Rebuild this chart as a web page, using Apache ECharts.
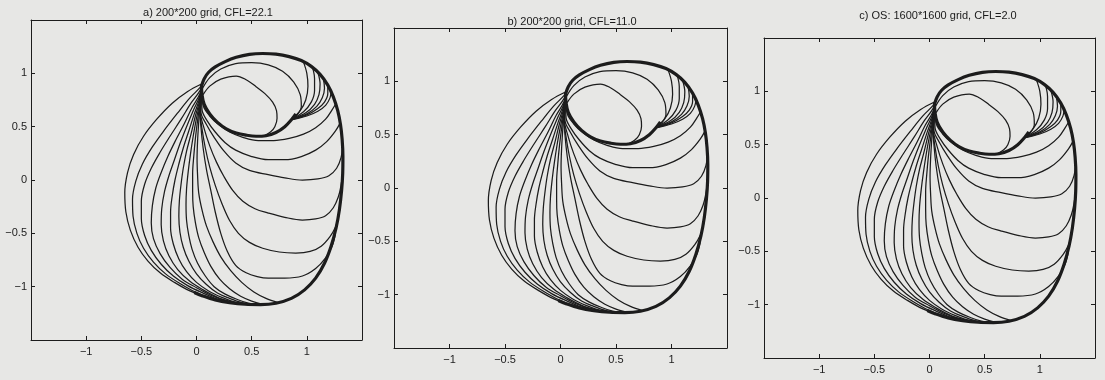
<!DOCTYPE html>
<html><head><meta charset="utf-8">
<script src="https://cdn.jsdelivr.net/npm/echarts@6/dist/echarts.min.js"></script>
<style>html,body{margin:0;padding:0;background:#e7e7e5;}#c{width:1105px;height:380px;}</style>
</head><body><div id="c"></div>
<script>
// ---- Data (data coordinates) ----
const panelTitles = ['a) 200*200 grid, CFL=22.1', 'b) 200*200 grid, CFL=11.0', 'c) OS: 1600*1600 grid, CFL=2.0'];
const tickValues = [-1, -0.5, 0, 0.5, 1];
const axisMin = -1.5, axisMax = 1.5, axisStep = 0.5;

// thick outer boundary (shared part of all contours)
const outerBoundary = [[0.045,0.88],[0.07,0.95],[0.11,1.01],[0.17,1.06],[0.26,1.11],[0.36,1.15],[0.48,1.178],[0.60,1.186],[0.72,1.18],[0.84,1.157],[0.95,1.12],[1.04,1.065],[1.12,0.99],[1.19,0.89],[1.24,0.78],[1.28,0.65],[1.305,0.52],[1.32,0.38],[1.327,0.22],[1.325,0.06],[1.315,-0.10],[1.295,-0.28],[1.265,-0.45],[1.22,-0.62],[1.16,-0.78],[1.08,-0.92],[0.98,-1.03],[0.86,-1.11],[0.72,-1.155],[0.58,-1.168],[0.44,-1.165],[0.30,-1.15],[0.17,-1.125],[0.05,-1.085],[-0.02,-1.055]];
// thick lower rim of the inner hole
const holeRing = [[0.045,0.90],[0.05,0.80],[0.07,0.71],[0.12,0.62],[0.19,0.54],[0.27,0.48],[0.36,0.44],[0.45,0.42],[0.54,0.41],[0.63,0.415],[0.72,0.445],[0.80,0.50],[0.86,0.565],[0.90,0.62]];
// loops inside the hole
const innerLoop1 = [[0.06,0.80],[0.12,0.88],[0.22,0.945],[0.36,0.975],[0.45,0.94],[0.54,0.875],[0.62,0.81],[0.69,0.73],[0.725,0.65],[0.73,0.58],[0.71,0.50],[0.67,0.45],[0.62,0.42]];
const innerLoop2 = [[0.055,0.86],[0.12,0.96],[0.22,1.04],[0.355,1.09],[0.50,1.10],[0.65,1.08],[0.78,1.02],[0.88,0.92],[0.94,0.80],[0.95,0.69],[0.91,0.61],[0.86,0.57]];
// fan from the upper-right arc into the hole rim
const fanA3 = [[0.97,1.105],[1.0,1.0],[1.01,0.88],[0.99,0.75],[0.94,0.65],[0.87,0.575]];
const fanA4 = [[1.05,1.06],[1.07,0.95],[1.07,0.84],[1.04,0.73],[0.97,0.64],[0.87,0.575]];
const fanA5 = [[1.10,1.01],[1.12,0.90],[1.11,0.80],[1.07,0.71],[0.99,0.63],[0.87,0.573]];
const fanA6 = [[1.15,0.95],[1.16,0.86],[1.14,0.77],[1.09,0.69],[1.00,0.62],[0.87,0.571]];
const fanA7 = [[1.19,0.89],[1.19,0.81],[1.16,0.73],[1.10,0.67],[1.00,0.61],[0.87,0.569]];
const fanA8 = [[1.22,0.83],[1.21,0.77],[1.17,0.70],[1.10,0.645],[1.0,0.60],[0.87,0.566]];
// bowls returning from the right side to the upper-left point
const bowlB1 = [[0.045,0.90],[0.06,0.70],[0.12,0.60],[0.20,0.52],[0.30,0.45],[0.42,0.40],[0.56,0.37],[0.70,0.37],[0.84,0.39],[0.97,0.43],[1.08,0.49],[1.17,0.57],[1.23,0.66],[1.265,0.72]];
const bowlB2 = [[0.045,0.90],[0.05,0.66],[0.10,0.55],[0.17,0.45],[0.26,0.35],[0.355,0.28],[0.50,0.22],[0.65,0.19],[0.80,0.19],[0.95,0.22],[1.08,0.28],[1.18,0.36],[1.26,0.46],[1.305,0.54]];
const bowlB3 = [[0.045,0.90],[0.04,0.64],[0.09,0.52],[0.16,0.40],[0.25,0.27],[0.355,0.16],[0.48,0.09],[0.65,0.05],[0.80,0.02],[0.96,0.0],[1.10,0.01],[1.20,0.04],[1.27,0.11],[1.31,0.21],[1.325,0.32]];
const bowlB4 = [[0.045,0.90],[0.035,0.64],[0.07,0.48],[0.12,0.32],[0.18,0.17],[0.25,0.03],[0.33,-0.10],[0.42,-0.20],[0.53,-0.27],[0.65,-0.31],[0.80,-0.35],[0.96,-0.375],[1.08,-0.365],[1.17,-0.335],[1.24,-0.26],[1.285,-0.16],[1.31,-0.05],[1.322,0.05]];
const bowlB5 = [[0.045,0.90],[0.03,0.65],[0.05,0.48],[0.08,0.30],[0.12,0.12],[0.17,-0.05],[0.23,-0.22],[0.30,-0.38],[0.38,-0.50],[0.48,-0.585],[0.60,-0.64],[0.75,-0.675],[0.90,-0.685],[1.03,-0.67],[1.13,-0.62],[1.21,-0.53],[1.26,-0.44],[1.285,-0.36],[1.30,-0.26]];
const bowlB6 = [[0.045,0.90],[0.03,0.67],[0.04,0.50],[0.06,0.30],[0.09,0.10],[0.13,-0.10],[0.17,-0.30],[0.22,-0.50],[0.28,-0.67],[0.355,-0.80],[0.45,-0.87],[0.55,-0.905],[0.65,-0.92],[0.80,-0.92],[0.96,-0.90],[1.08,-0.83],[1.17,-0.73],[1.23,-0.62],[1.258,-0.51]];
// curves swinging out to the left and joining the bottom rim
const leftL0 = [[0.045,0.90],[-0.08,0.83],[-0.22,0.72],[-0.36,0.57],[-0.48,0.41],[-0.57,0.24],[-0.625,0.07],[-0.65,-0.12],[-0.64,-0.30],[-0.60,-0.47],[-0.53,-0.63],[-0.44,-0.76],[-0.33,-0.87],[-0.20,-0.96],[-0.06,-1.04],[0.09,-1.10],[0.25,-1.145]];
const leftL1 = [[0.045,0.90],[0.035,0.87],[-0.06,0.77],[-0.17,0.63],[-0.29,0.47],[-0.40,0.31],[-0.49,0.15],[-0.55,-0.01],[-0.58,-0.18],[-0.575,-0.34],[-0.54,-0.50],[-0.48,-0.64],[-0.39,-0.77],[-0.28,-0.88],[-0.15,-0.97],[-0.01,-1.05],[0.14,-1.11],[0.30,-1.15]];
const leftL2 = [[0.045,0.90],[0.033,0.84],[-0.05,0.72],[-0.14,0.57],[-0.24,0.41],[-0.33,0.26],[-0.41,0.11],[-0.47,-0.04],[-0.50,-0.20],[-0.50,-0.36],[-0.47,-0.52],[-0.41,-0.66],[-0.32,-0.79],[-0.21,-0.90],[-0.08,-0.99],[0.06,-1.06],[0.20,-1.12],[0.34,-1.155]];
const leftL3 = [[0.045,0.90],[0.032,0.81],[-0.04,0.68],[-0.11,0.53],[-0.19,0.37],[-0.26,0.22],[-0.32,0.07],[-0.37,-0.08],[-0.40,-0.24],[-0.41,-0.40],[-0.39,-0.55],[-0.33,-0.69],[-0.24,-0.82],[-0.13,-0.93],[0.0,-1.01],[0.13,-1.08],[0.26,-1.13],[0.38,-1.16]];
const leftL4 = [[0.045,0.90],[0.031,0.79],[-0.03,0.65],[-0.09,0.50],[-0.15,0.34],[-0.20,0.19],[-0.25,0.04],[-0.29,-0.11],[-0.315,-0.27],[-0.32,-0.42],[-0.30,-0.57],[-0.25,-0.71],[-0.17,-0.84],[-0.06,-0.95],[0.06,-1.03],[0.19,-1.10],[0.31,-1.14],[0.42,-1.165]];
const leftL5 = [[0.045,0.90],[0.03,0.77],[-0.02,0.62],[-0.07,0.46],[-0.12,0.30],[-0.16,0.15],[-0.195,0.0],[-0.22,-0.15],[-0.235,-0.30],[-0.235,-0.45],[-0.21,-0.60],[-0.16,-0.74],[-0.09,-0.86],[0.0,-0.96],[0.11,-1.04],[0.23,-1.10],[0.35,-1.145],[0.46,-1.165]];
const leftL6 = [[0.045,0.90],[0.03,0.75],[-0.01,0.60],[-0.05,0.43],[-0.09,0.27],[-0.12,0.11],[-0.14,-0.04],[-0.155,-0.19],[-0.16,-0.34],[-0.15,-0.49],[-0.12,-0.63],[-0.07,-0.76],[0.0,-0.88],[0.09,-0.98],[0.19,-1.06],[0.30,-1.11],[0.41,-1.15],[0.50,-1.165]];
const leftL7 = [[0.045,0.90],[0.03,0.73],[0.0,0.58],[-0.03,0.41],[-0.055,0.24],[-0.075,0.08],[-0.09,-0.08],[-0.095,-0.23],[-0.09,-0.38],[-0.07,-0.52],[-0.04,-0.65],[0.01,-0.78],[0.08,-0.90],[0.16,-1.0],[0.26,-1.07],[0.37,-1.12],[0.47,-1.155],[0.55,-1.168]];
const leftL8 = [[0.045,0.90],[0.03,0.71],[0.01,0.56],[-0.01,0.39],[-0.025,0.22],[-0.035,0.06],[-0.035,-0.10],[-0.03,-0.25],[-0.01,-0.40],[0.02,-0.54],[0.07,-0.68],[0.13,-0.81],[0.21,-0.93],[0.30,-1.02],[0.40,-1.09],[0.50,-1.135],[0.60,-1.165]];
const leftL9 = [[0.045,0.90],[0.03,0.69],[0.02,0.54],[0.01,0.37],[0.005,0.20],[0.01,0.04],[0.02,-0.12],[0.05,-0.28],[0.09,-0.43],[0.15,-0.58],[0.22,-0.72],[0.31,-0.85],[0.41,-0.96],[0.52,-1.05],[0.63,-1.11],[0.74,-1.15]];

const thickCurves = [outerBoundary, holeRing];
const thinCurves = [innerLoop1, innerLoop2, fanA3, fanA4, fanA5, fanA6, fanA7, fanA8,
  bowlB1, bowlB2, bowlB3, bowlB4, bowlB5, bowlB6,
  leftL0, leftL1, leftL2, leftL3, leftL4, leftL5, leftL6, leftL7, leftL8, leftL9];

// ---- Layout (pixels) ----
const grids = [
  {left: 31, top: 20, width: 331, height: 320, titleX: 208, titleY: 13},
  {left: 394, top: 28, width: 333, height: 320, titleX: 572, titleY: 22},
  {left: 764, top: 38, width: 331, height: 320, titleX: 938, titleY: 16}
];
const ink = '#1c1c1c';
const fontFamily = '"Liberation Sans", Arial, Helvetica, sans-serif';
const fmt = v => (v < 0 ? '\u2212' + String(-v) : String(v));

const chart = echarts.init(document.getElementById('c'), null, {renderer: 'canvas'});
const xAxes = [], yAxes = [], series = [], graphics = [];
grids.forEach((g, i) => {
  const common = {gridIndex: i, type: 'value', min: axisMin, max: axisMax, interval: axisStep,
    splitLine: {show: false},
    axisLine: {show: true, onZero: false, lineStyle: {color: ink, width: 1}},
    axisTick: {show: true, inside: true, length: 4, lineStyle: {color: ink, width: 1}}};
  xAxes.push(Object.assign({}, common, {position: 'bottom',
    axisLabel: {show: true, showMinLabel: false, showMaxLabel: false, margin: 6, color: '#222', fontSize: 11, fontFamily, formatter: fmt}}));
  xAxes.push(Object.assign({}, common, {position: 'top', axisLabel: {show: false}}));
  yAxes.push(Object.assign({}, common, {position: 'left',
    axisLabel: {show: true, showMinLabel: false, showMaxLabel: false, margin: 4, color: '#222', fontSize: 11, fontFamily, formatter: fmt}}));
  yAxes.push(Object.assign({}, common, {position: 'right', axisLabel: {show: false}}));
  const add = (data, w) => series.push({type: 'line', xAxisIndex: 2 * i, yAxisIndex: 2 * i, data: data,
    showSymbol: false, symbol: 'none', smooth: 0.35, silent: true, animation: false,
    lineStyle: {color: ink, width: w}});
  thinCurves.forEach(c => add(c, 1.25));
  thickCurves.forEach(c => add(c, 3.2));
  graphics.push({type: 'text', x: g.titleX, y: g.titleY,
    style: {text: panelTitles[i], fill: '#1a1a1a', font: '11px ' + fontFamily, textAlign: 'center', textVerticalAlign: 'middle'}});
});

chart.setOption({
  backgroundColor: '#e7e7e5',
  animation: false,
  grid: grids.map(g => ({left: g.left, top: g.top, width: g.width, height: g.height, show: false})),
  xAxis: xAxes,
  yAxis: yAxes,
  series: series,
  graphic: graphics
});
</script>
</body></html>
